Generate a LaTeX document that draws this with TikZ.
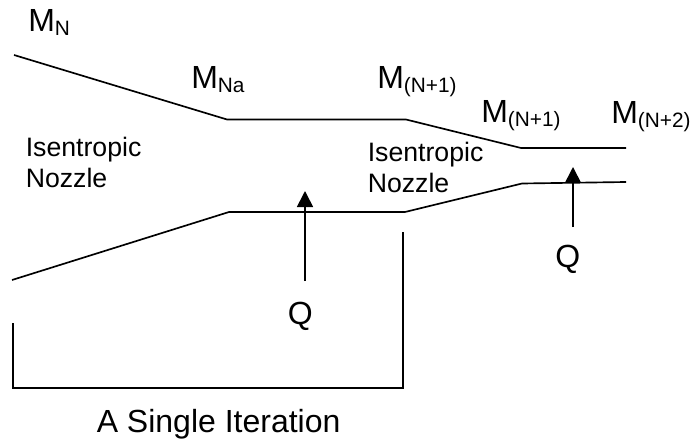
\documentclass[tikz,border=0pt]{standalone}
\usepackage{fontspec}
\setmainfont{Liberation Sans}
\usetikzlibrary{arrows.meta}
\tikzset{
 wall/.style={line width=1.25pt,black},
 lab/.style={inner sep=0pt,font=\fontsize{24}{26}\selectfont,anchor=base west},
 smalllab/.style={inner sep=0pt,font=\fontsize{20}{22}\selectfont,anchor=base west},
 tip/.style={-{Triangle[length=12pt,width=12pt]}}
}
\newcommand{\subtxt}[1]{\raisebox{-2.6pt}{\fontsize{15.6}{17}\selectfont #1}}
\begin{document}
\begin{tikzpicture}[x=0.75pt,y=-0.75pt]
\useasboundingbox (0,0) rectangle (691,445);
\coordinate (a1) at (14,55); \coordinate (a2) at (227,119.5); \coordinate (a3) at (406,119.5); \coordinate (a4) at (521,148); \coordinate (a5) at (626,148);
\coordinate (b1) at (12,280); \coordinate (b2) at (229,212); \coordinate (b3) at (405,212); \coordinate (b4) at (522,183.5); \coordinate (b5) at (626,182);
\draw[wall] (a1)--(a2)--(a3)--(a4)--(a5);
\draw[wall] (b1)--(b2)--(b3)--(b4)--(b5);
\coordinate (c1) at (13,323); \coordinate (c2) at (13,388); \coordinate (c3) at (403,388); \coordinate (c4) at (403,232);
\draw[wall] (c1)--(c2)--(c3)--(c4);
\coordinate (q1s) at (305,281); \coordinate (q1e) at (305,191);
\coordinate (q2s) at (573,227); \coordinate (q2e) at (573,167);
\draw[wall,tip] (q1s)--(q1e);
\draw[wall,tip] (q2s)--(q2e);
\node[lab] (mn) at (28,32) {M\subtxt{N}};
\node[lab] (mna) at (191,89) {M\subtxt{Na}};
\node[lab] (m1) at (377,89) {M\subtxt{(N+1)}};
\node[lab] (m2) at (481,123) {M\subtxt{(N+1)}};
\node[lab] (m3) at (611,124) {M\subtxt{(N+2)}};
\node[smalllab] (n1) at (25.5,157) {Isentropic};
\node[smalllab] (n1b) at (25.5,188) {Nozzle};
\node[smalllab] (n2) at (367.5,162) {Isentropic};
\node[smalllab] (n2b) at (367.5,193) {Nozzle};
\node[lab] (q1) at (287.5,324) {Q};
\node[lab] (q2) at (555,267) {Q};
\node[lab] (s) at (96.5,432) {A Single Iteration};
\end{tikzpicture}
\end{document}
